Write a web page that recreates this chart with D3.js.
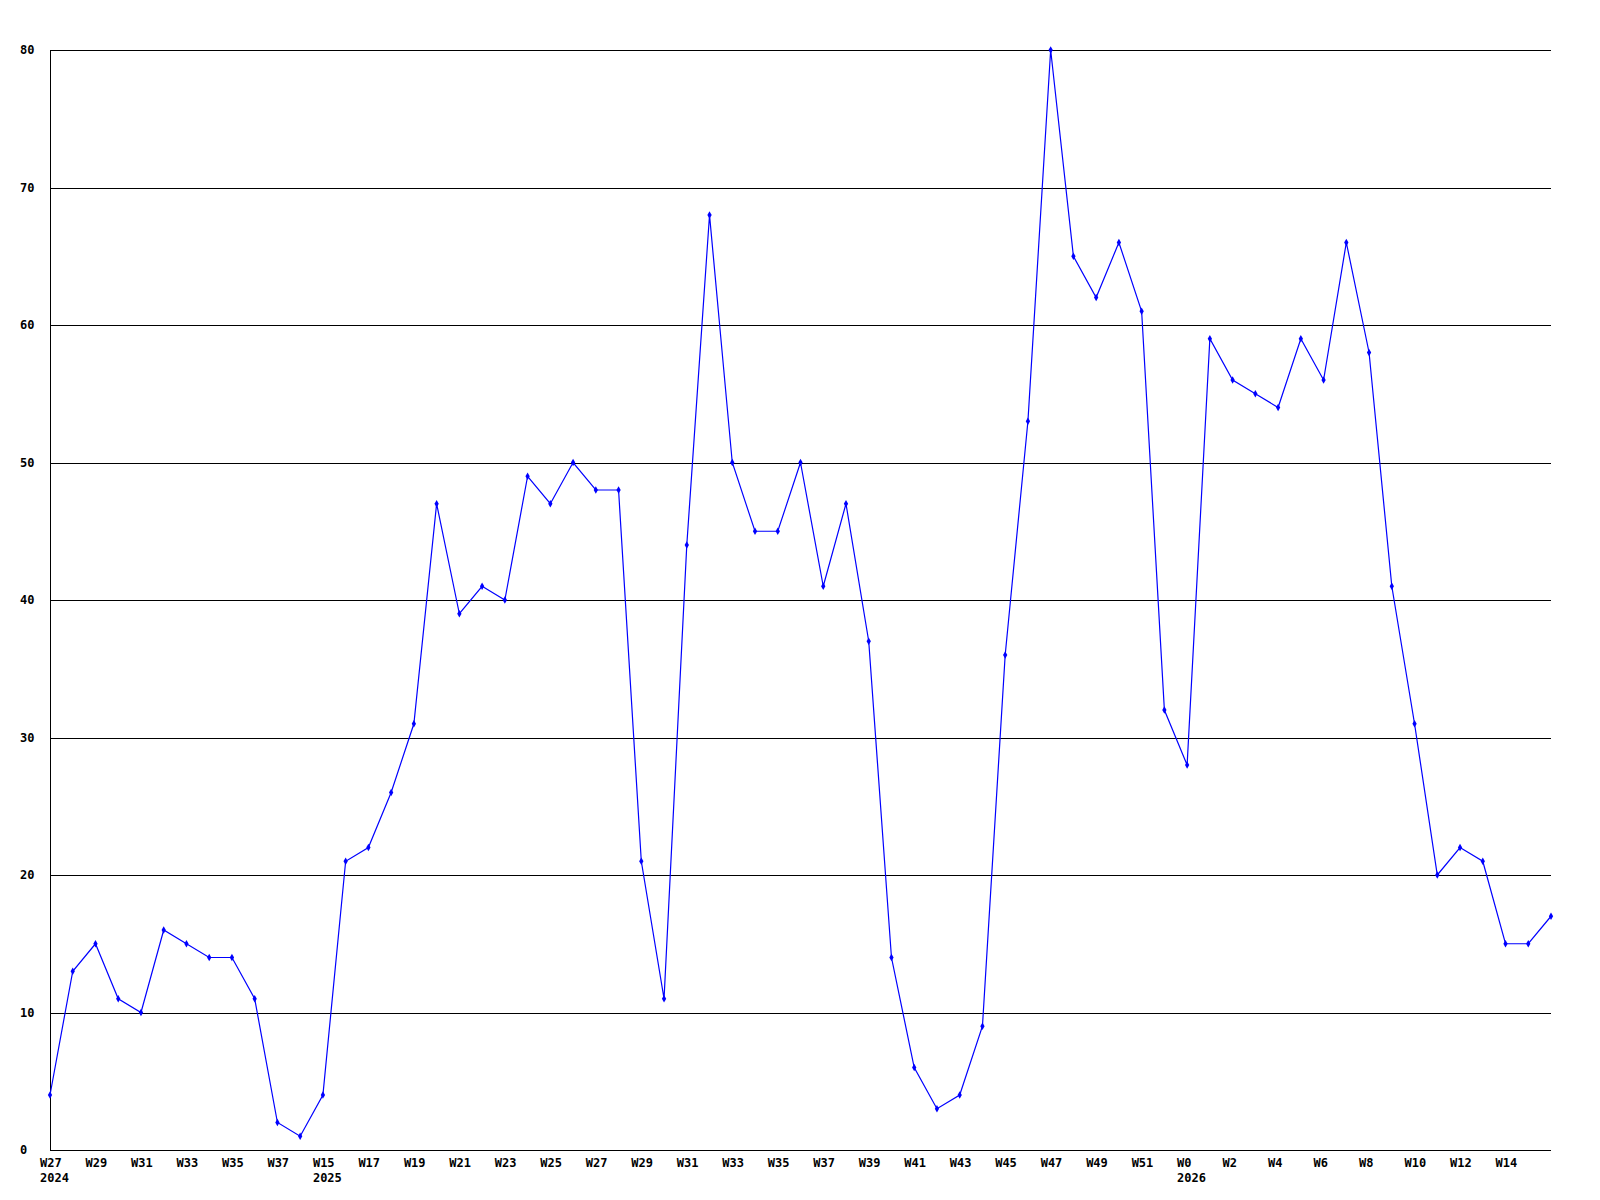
<!DOCTYPE html>
<html>
<head>
<meta charset="utf-8">
<script src="https://cdn.jsdelivr.net/npm/d3@7"></script>
<style>
  html, body { margin: 0; padding: 0; background: #fff; }
  svg { display: block; }
  text { font-family: "DejaVu Sans Mono", "Liberation Mono", monospace; font-weight: bold; font-size: 12px; fill: #000; }
</style>
</head>
<body>
<svg id="chart" width="1600" height="1200"></svg>
<script>
// Week labels (year, week) in order
const years = [2024,2024,2024,2024,2024,2024,2024,2024,2024,2024,2024,2024,
  2025,2025,2025,2025,2025,2025,2025,2025,2025,2025,2025,2025,2025,2025,2025,2025,2025,2025,2025,2025,2025,2025,2025,2025,2025,2025,2025,2025,2025,2025,2025,2025,2025,2025,2025,2025,2025,2025,
  2026,2026,2026,2026,2026,2026,2026,2026,2026,2026,2026,2026,2026,2026,2026,2026,2026];
const weeks = [27,28,29,30,31,32,33,34,35,36,37,38,
  15,16,17,18,19,20,21,22,23,24,25,26,27,28,29,30,31,32,33,34,35,36,37,38,39,40,41,42,43,44,45,46,47,48,49,50,51,52,
  0,1,2,3,4,5,6,7,8,9,10,11,12,13,14,15,16];
const values = [4,13,15,11,10,16,15,14,14,11,2,1,
  4,21,22,26,31,47,39,41,40,49,47,50,48,48,21,11,44,68,50,45,45,50,41,47,37,14,6,3,4,9,36,53,80,65,62,66,61,32,
  28,59,56,55,54,59,56,66,58,41,31,20,22,21,15,15,17];
const yTicks = [0,10,20,30,40,50,60,70,80];

const keys = years.map((yr, i) => yr + "-W" + weeks[i]);

const svg = d3.select("#chart");
const mLeft = 50, mRight = 1551, mTop = 50, mBottom = 1150;

const x = d3.scalePoint().domain(keys).range([mLeft, mRight]);
const y = d3.scaleLinear().domain([0, 80]).range([mBottom, mTop]);

// horizontal grid lines
svg.append("g").selectAll("line").data(yTicks.filter(d => d > 0)).join("line")
  .attr("x1", mLeft).attr("x2", mRight)
  .attr("y1", d => Math.round(y(d)) + 0.5).attr("y2", d => Math.round(y(d)) + 0.5)
  .attr("stroke", "#000").attr("stroke-width", 1).attr("shape-rendering", "crispEdges");

// axes lines
svg.append("line").attr("x1", mLeft + 0.5).attr("x2", mLeft + 0.5).attr("y1", mTop).attr("y2", mBottom)
  .attr("stroke", "#000").attr("shape-rendering", "crispEdges");
svg.append("line").attr("x1", mLeft).attr("x2", mRight).attr("y1", mBottom + 0.5).attr("y2", mBottom + 0.5)
  .attr("stroke", "#000").attr("shape-rendering", "crispEdges");

// y labels
svg.append("g").selectAll("text").data(yTicks).join("text")
  .attr("x", 20).attr("y", d => y(d) + 4)
  .text(d => d);

// x labels (every other week, last one omitted as in the original)
const lab = svg.append("g");
keys.forEach((k, i) => {
  if (i % 2 === 0 && i < keys.length - 1) {
    lab.append("text").attr("x", x(k) - 10).attr("y", mBottom + 17).text("W" + weeks[i]);
  }
  if (i === 0 || years[i] !== years[i - 1]) {
    lab.append("text").attr("x", x(k) - 10).attr("y", mBottom + 32).text(years[i]);
  }
});

// data line
const line = d3.line().x((d, i) => x(keys[i])).y(d => y(d));
svg.append("path").datum(values)
  .attr("d", line)
  .attr("fill", "none").attr("stroke", "#0000ff").attr("stroke-width", 1.2);

// markers
svg.append("g").selectAll("path").data(values).join("path")
  .attr("d", d3.symbol().type(d3.symbolDiamond).size(16))
  .attr("transform", (d, i) => `translate(${x(keys[i])},${y(d)})`)
  .attr("fill", "#0000ff");
</script>
</body>
</html>
